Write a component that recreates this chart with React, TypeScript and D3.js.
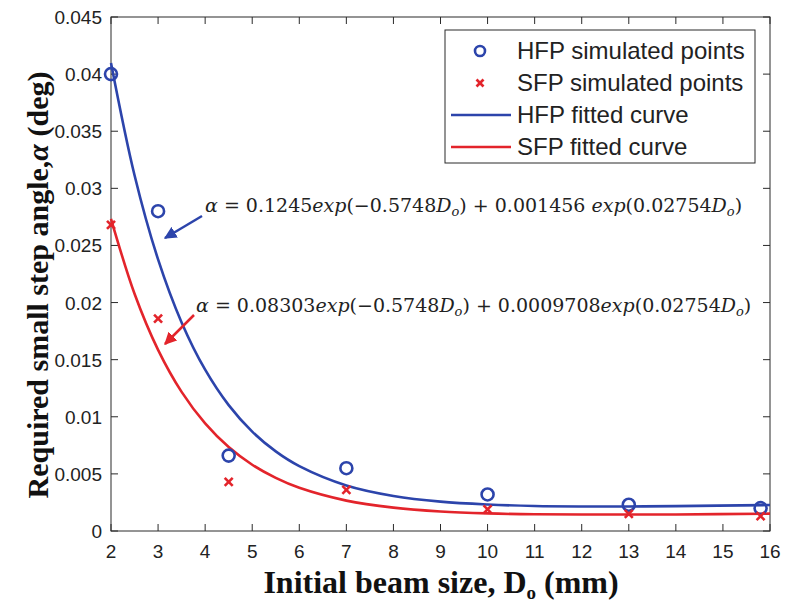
import React from "react";
import * as d3 from "d3";

const hfpX = [2, 3, 4.5, 7, 10, 13, 15.8];
const hfpY = [0.0400, 0.0280, 0.0066, 0.0055, 0.0032, 0.0023, 0.0020];
const sfpX = [2, 3, 4.5, 7, 10, 13, 15.8];
const sfpY = [0.0268, 0.0186, 0.0043, 0.0036, 0.0019, 0.0015, 0.0013];

const curveX = [2, 2.5, 3, 3.5, 4, 4.5, 5, 5.5, 6, 7, 8, 9, 10, 11, 12, 13, 14, 16];
const hfpFit = [0.04098, 0.03115, 0.02378, 0.01826, 0.01412, 0.01102, 0.0087, 0.00697, 0.00568, 0.00399, 0.00307, 0.00257, 0.00232, 0.00219, 0.00215, 0.00215, 0.00218, 0.00227];
const sfpFit = [0.02733, 0.02077, 0.01586, 0.01218, 0.00942, 0.00735, 0.0058, 0.00465, 0.00378, 0.00266, 0.00205, 0.00171, 0.00154, 0.00146, 0.00144, 0.00144, 0.00145, 0.00152];

const xTicks = [2, 3, 4, 5, 6, 7, 8, 9, 10, 11, 12, 13, 14, 15, 16];
const yTicks = [0, 0.005, 0.01, 0.015, 0.02, 0.025, 0.03, 0.035, 0.04, 0.045];
const yTickLabels = ["0", "0.005", "0.01", "0.015", "0.02", "0.025", "0.03", "0.035", "0.04", "0.045"];
const legendLabels = ["HFP simulated points", "SFP simulated points", "HFP fitted curve", "SFP fitted curve"];

const BLUE = "#2c44ab";
const RED = "#e3242b";
const AX = "#2a2a2a";

export default function App() {
  const L = 111, R = 770, T = 17, B = 531;
  const x = d3.scaleLinear().domain([2, 16]).range([L, R]);
  const y = d3.scaleLinear().domain([0, 0.045]).range([B, T]);
  const line = d3.line<number>().x((_, i) => x(curveX[i])).y((d) => y(d)).curve(d3.curveCatmullRom);

  const sans = "'Liberation Sans', Arial, sans-serif";
  const serif = "'Liberation Serif', 'Times New Roman', serif";
  const mathFont = "'DejaVu Serif', serif";
  const tickLen = 7;

  const cross = (cx: number, cy: number, key: string, s = 4) => (
    <g key={key} stroke={RED} strokeWidth={2.6}>
      <line x1={cx - s} y1={cy - s} x2={cx + s} y2={cy + s} />
      <line x1={cx - s} y1={cy + s} x2={cx + s} y2={cy - s} />
    </g>
  );

  const eq = (coefA: string, coefB: string, space: boolean) => (
    <>
      <tspan fontStyle="italic">α</tspan>
      <tspan> = {coefA}</tspan>
      <tspan fontStyle="italic">exp</tspan>
      <tspan>(−0.5748</tspan>
      <tspan fontStyle="italic">D</tspan>
      <tspan fontStyle="italic" fontSize="13" dy="4">o</tspan>
      <tspan dy="-4">) + {coefB}{space ? " " : ""}</tspan>
      <tspan fontStyle="italic">exp</tspan>
      <tspan>(0.02754</tspan>
      <tspan fontStyle="italic">D</tspan>
      <tspan fontStyle="italic" fontSize="13" dy="4">o</tspan>
      <tspan dy="-4">)</tspan>
    </>
  );

  return (
    <svg width={787} height={606} style={{ position: "absolute", left: 0, top: 0, background: "#fff" }}>
      <defs>
        <marker id="ahB" viewBox="0 0 10 10" refX="9" refY="5" markerWidth="5" markerHeight="5" orient="auto">
          <path d="M0,0 L10,5 L0,10 z" fill={BLUE} />
        </marker>
        <marker id="ahR" viewBox="0 0 10 10" refX="9" refY="5" markerWidth="5" markerHeight="5" orient="auto">
          <path d="M0,0 L10,5 L0,10 z" fill={RED} />
        </marker>
      </defs>
      <rect x={0} y={0} width={787} height={606} fill="#fff" />

      {/* axes box */}
      <rect x={L} y={T} width={R - L} height={B - T} fill="none" stroke={AX} strokeWidth={1} />
      {xTicks.map((t) => (
        <g key={"xt" + t}>
          <line x1={x(t)} x2={x(t)} y1={B} y2={B - tickLen} stroke={AX} />
          <line x1={x(t)} x2={x(t)} y1={T} y2={T + tickLen} stroke={AX} />
          <text x={x(t)} y={B + 27} textAnchor="middle" fontFamily={sans} fontSize={19} fill="#222">{t}</text>
        </g>
      ))}
      {yTicks.map((t, i) => (
        <g key={"yt" + i}>
          <line x1={L} x2={L + tickLen} y1={y(t)} y2={y(t)} stroke={AX} />
          <line x1={R} x2={R - tickLen} y1={y(t)} y2={y(t)} stroke={AX} />
          <text x={L - 9} y={y(t) + 7} textAnchor="end" fontFamily={sans} fontSize={19} fill="#222">{yTickLabels[i]}</text>
        </g>
      ))}

      {/* fitted curves */}
      <path d={line(hfpFit) || ""} fill="none" stroke={BLUE} strokeWidth={2.6} />
      <path d={line(sfpFit) || ""} fill="none" stroke={RED} strokeWidth={2.6} />

      {/* points */}
      {hfpX.map((v, i) => (
        <circle key={"h" + i} cx={x(v)} cy={y(hfpY[i])} r={6} fill="none" stroke={BLUE} strokeWidth={2.6} />
      ))}
      {sfpX.map((v, i) => cross(x(v), y(sfpY[i]), "s" + i))}

      {/* annotations */}
      <line x1={202} y1={216} x2={165} y2={238} stroke={BLUE} strokeWidth={2.5} markerEnd="url(#ahB)" />
      <line x1={194} y1={315} x2={165} y2={344} stroke={RED} strokeWidth={2.5} markerEnd="url(#ahR)" />
      <text x={205} y={212} fontFamily={mathFont} fontSize={19} fill="#222">{eq("0.1245", "0.001456", true)}</text>
      <text x={196} y={312} fontFamily={mathFont} fontSize={19} fill="#222">{eq("0.08303", "0.0009708", false)}</text>

      {/* legend */}
      <rect x={445} y={30} width={310} height={133} fill="#fff" stroke={AX} strokeWidth={1} />
      {legendLabels.map((lab, i) => {
        const ly = 51 + i * 32;
        return (
          <g key={"lg" + i}>
            {i === 0 && <circle cx={480} cy={ly} r={5} fill="none" stroke={BLUE} strokeWidth={2.6} />}
            {i === 1 && cross(480, ly, "lc", 3.5)}
            {i === 2 && <line x1={451} x2={511} y1={ly} y2={ly} stroke={BLUE} strokeWidth={2.6} />}
            {i === 3 && <line x1={451} x2={511} y1={ly} y2={ly} stroke={RED} strokeWidth={2.6} />}
            <text x={517} y={ly + 8} fontFamily={sans} fontSize={24} fill="#222">{lab}</text>
          </g>
        );
      })}

      {/* axis labels */}
      <text x={441} y={593} textAnchor="middle" fontFamily={serif} fontWeight="bold" fontSize={32} fill="#111">
        Initial beam size, D<tspan fontSize={19} dy={6}>o</tspan><tspan dy={-6}> (mm)</tspan>
      </text>
      <text transform="translate(48,285) rotate(-90)" textAnchor="middle" fontFamily={serif} fontWeight="bold" fontSize={30} fill="#111">
        Required small step angle,<tspan fontStyle="italic">α</tspan> (deg)
      </text>
    </svg>
  );
}
